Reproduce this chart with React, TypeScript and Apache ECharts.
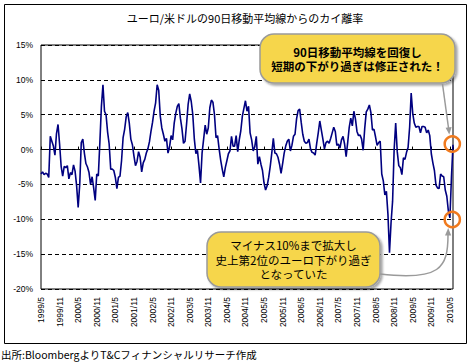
import React, { useEffect, useRef } from "react";
import * as echarts from "echarts";

// Months counted from 1999/5 (x = 0) to 2010/6 (x = 133); one value every half month
const startYear = 1999;
const startMonth = 5;
const axisMonths = 133;
const stepMonths = 0.5;
const labelEveryMonths = 6;

const titleText = "ユーロ/米ドルの90日移動平均線からのカイ離率";
const sourceText = "出所:BloombergよりT&Cフィナンシャルリサーチ作成";
const calloutTop = ["90日移動平均線を回復し", "短期の下がり過ぎは修正された！"];
const calloutBottom = ["マイナス10%まで拡大し", "史上第2位のユーロ下がり過ぎ", "となっていた"];

const yMin = -20;
const yMax = 15;
const yStep = 5;

// Deviation of EUR/USD from its 90-day moving average (%)
const deviation = [
  -3.5, -3.2, -3.6, -3.4, -3.5, -4.0, 1.9, 1.2, 0.5, -0.8,
  2.3, 3.6, 0.8, -2.4, -3.8, -2.4, -2.6, -2.3, -4.2, -3.3,
  -3.6, -2.2, -3.1, -5.2, -8.3, -5.0, 1.0, 1.5, -0.5, -2.0,
  -2.5, -3.3, -5.0, -3.9, -5.5, -7.3, -3.5, -3.8, 1.0, 6.2,
  9.3, 5.5, 5.0, 2.5, 0.8, -2.8, -2.8, -3.0, -4.0, -5.6,
  -4.0, -3.8, -1.6, 1.7, 2.9, 4.7, 5.3, 3.8, 1.5, 0.7,
  -0.9, -2.3, -1.7, -0.3, -1.1, -3.2, -1.9, -1.4, -0.5, 0.1,
  1.1, 2.6, 3.9, 5.5, 6.7, 9.3, 8.5, 4.8, 3.1, 2.2,
  1.2, 1.6, -0.5, 0.4, 2.0, 1.4, 3.8, 5.2, 6.2, 6.6,
  4.5, 3.0, 0.9, 1.2, 3.7, 6.5, 8.0, 6.9, 5.0, 1.5,
  -0.6, -0.1, -2.3, -4.8, -0.5, 1.5, 3.5, 2.2, 3.1, 6.0,
  7.1, 6.8, 5.0, 1.7, 2.0, 0.1, -1.5, -2.8, -3.9, -2.6,
  -1.6, -0.6, -0.2, 1.9, 0.5, 0.5, 2.0, -0.3, 1.4, 2.7,
  4.8, 5.9, 7.0, 5.5, 6.2, 2.4, 1.4, -0.2, 0.4, 1.9,
  -2.1, -1.0, -2.1, -3.0, -4.8, -5.8, -5.2, -4.0, -2.4, -0.5,
  1.6, -0.5, -0.6, -1.1, -2.1, -3.4, -2.0, -0.5, 0.5, 1.2,
  1.5, -0.2, 0.6, 1.9, 2.2, 4.4, 5.6, 5.8, 3.9, 2.2,
  1.2, 0.9, 1.0, 1.5, 0.1, -0.4, -0.5, -0.8, 0.9, 2.4,
  4.1, 2.8, 1.5, 0.1, 1.0, 1.2, 0.9, 1.6, 2.4, 3.2,
  2.6, 0.6, 0.8, 0.2, 1.4, 1.9, 0.8, -1.0, 1.0, 3.2,
  4.5, 3.4, 5.5, 4.4, 2.6, 2.0, 2.1, 1.5, -0.1, 3.0,
  5.4, 5.8, 6.4, 5.3, 2.8, 2.9, 1.8, 0.6, 1.0, 1.2,
  -3.5, -4.5, -6.5, -6.0, -9.3, -14.8, -10.5, -7.4, 0.0, 3.8,
  -0.3, -2.3, -2.6, -3.6, -1.2, -1.4, -0.4, 0.3, 3.2, 8.1,
  5.2, 3.8, 3.2, 3.3, 3.3, 2.4, 3.3, 3.3, 3.2, 2.4,
  2.8, 2.0, -0.6, -1.9, -3.0, -5.1, -5.5, -5.6, -3.5, -3.8,
  -3.9, -5.8, -6.7, -8.8, -9.8, -4.0, 0.7,
];

const JP = '"Noto Sans CJK JP", "Noto Sans", sans-serif';
const LAT = '"Liberation Sans", Arial, sans-serif';

function monthLabel(v: number): string {
  if (Math.abs(v % labelEveryMonths) > 1e-6) return "";
  const m = startMonth - 1 + Math.round(v);
  const y = startYear + Math.floor(m / 12);
  return `${y}/${(m % 12) + 1}`;
}

export default function App() {
  const ref = useRef<HTMLDivElement>(null);

  useEffect(() => {
    if (!ref.current) return;
    const chart = echarts.init(ref.current, null, { renderer: "svg" });
    const data = deviation.map((v, i) => [i * stepMonths, v]);

    const gray = "#9a9a9a";
    const yellow = "#f6d64b";
    const orange = "#f07a1e";

    const textEl = (
      text: string,
      x: number,
      y: number,
      font: string,
      align = "center",
      lineHeight = 14.5
    ) => ({
      type: "text",
      x,
      y,
      z: 110,
      silent: true,
      style: {
        text,
        font,
        lineHeight,
        fill: "#000",
        align,
        textAlign: align,
        verticalAlign: "middle",
        textVerticalAlign: "middle",
      },
    });

    chart.setOption({
      animation: false,
      backgroundColor: "#fff",
      grid: {
        left: 41,
        top: 45,
        width: 412,
        height: 244,
        show: true,
        borderColor: "#000",
        borderWidth: 1,
        backgroundColor: "transparent",
      },
      xAxis: [
        {
          type: "value",
          position: "bottom",
          min: 0,
          max: axisMonths,
          interval: labelEveryMonths,
          axisLine: { show: false, onZero: false },
          axisTick: { show: false },
          splitLine: { show: false },
          axisLabel: {
            rotate: 90,
            margin: 8,
            fontSize: 8.5,
            fontFamily: LAT,
            color: "#000",
            formatter: monthLabel,
            showMaxLabel: false,
          },
        },
        {
          type: "value",
          position: "bottom",
          min: 0,
          max: axisMonths,
          interval: labelEveryMonths,
          axisLine: { show: true, onZero: true, lineStyle: { color: "#000", width: 1 } },
          axisTick: { show: true, inside: true, length: 3, lineStyle: { color: "#000" } },
          axisLabel: { show: false },
          splitLine: { show: false },
        },
      ],
      yAxis: {
        type: "value",
        min: yMin,
        max: yMax,
        interval: yStep,
        axisLine: { show: false },
        axisTick: { show: false },
        axisLabel: {
          margin: 8,
          fontSize: 8.5,
          fontFamily: LAT,
          color: "#000",
          formatter: (v: number) => `${v}%`,
        },
        splitLine: { show: true, lineStyle: { color: "#000", width: 1, type: [4, 3] } },
      },
      series: [
        {
          type: "line",
          xAxisIndex: 0,
          yAxisIndex: 0,
          data,
          symbol: "none",
          lineStyle: { color: "#000080", width: 1.6 },
          z: 3,
        },
      ],
      graphic: [
        {
          type: "rect",
          silent: true,
          z: -1,
          shape: { x: 4.5, y: 4.5, width: 462, height: 339 },
          style: { fill: "none", stroke: "#000", lineWidth: 1 },
        },
        textEl(titleText, 245, 18, `11px ${JP}`),
        textEl(sourceText, 1, 354, `10.5px ${JP}`, "left"),
        // top callout
        {
          type: "rect",
          z: 100,
          silent: true,
          shape: { x: 260, y: 34, width: 195, height: 49, r: 14 },
          style: {
            fill: yellow,
            stroke: gray,
            lineWidth: 1.5,
            shadowBlur: 2,
            shadowOffsetX: 2,
            shadowOffsetY: 2,
            shadowColor: "rgba(0,0,0,0.35)",
          },
        },
        textEl(calloutTop.join("\n"), 357.5, 59, `bold 11.5px ${JP}`),
        {
          type: "line",
          z: 100,
          silent: true,
          shape: { x1: 442.5, y1: 84, x2: 448.5, y2: 128 },
          style: { stroke: gray, lineWidth: 1.5 },
        },
        {
          type: "polygon",
          z: 100,
          silent: true,
          shape: { points: [[449.3, 134.5], [445.6, 127.8], [451.6, 127.0]] },
          style: { fill: gray },
        },
        // bottom callout
        {
          type: "rect",
          z: 100,
          silent: true,
          shape: { x: 207, y: 232, width: 173, height: 55, r: 14 },
          style: {
            fill: yellow,
            stroke: gray,
            lineWidth: 1.5,
            shadowBlur: 2,
            shadowOffsetX: 2,
            shadowOffsetY: 2,
            shadowColor: "rgba(0,0,0,0.35)",
          },
        },
        textEl(calloutBottom.join("\n"), 293.5, 259.5, `11.5px ${JP}`),
        {
          type: "bezierCurve",
          z: 100,
          silent: true,
          shape: { x1: 380, y1: 274, cpx1: 440, cpy1: 281, cpx2: 448, cpy2: 268, x2: 448, y2: 235 },
          style: { stroke: gray, lineWidth: 1.5, fill: "none" },
        },
        {
          type: "polygon",
          z: 100,
          silent: true,
          shape: { points: [[448.2, 228], [445, 235.5], [451.2, 235.5]] },
          style: { fill: gray },
        },
        // highlight circles
        {
          type: "circle",
          z: 105,
          silent: true,
          shape: { cx: 452.3, cy: 144, r: 7.6 },
          style: { fill: "none", stroke: orange, lineWidth: 2.5 },
        },
        {
          type: "circle",
          z: 105,
          silent: true,
          shape: { cx: 452.3, cy: 219.5, r: 7.6 },
          style: { fill: "none", stroke: orange, lineWidth: 2.5 },
        },
      ],
    });

    return () => chart.dispose();
  }, []);

  return (
    <div
      ref={ref}
      style={{ position: "absolute", left: 0, top: 0, width: 471, height: 364, background: "#fff" }}
    />
  );
}
